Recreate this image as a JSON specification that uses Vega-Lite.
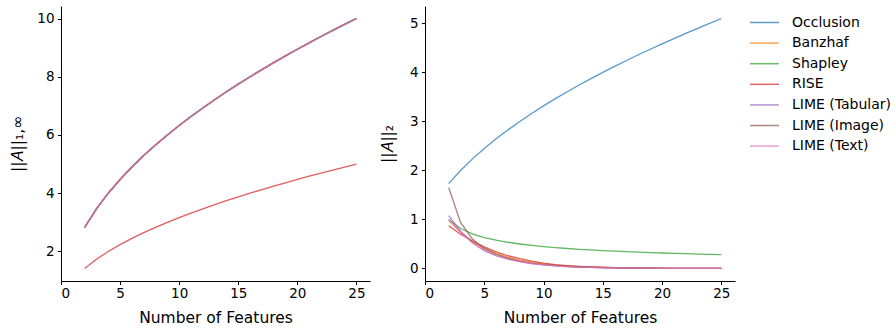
{
  "$schema": "https://vega.github.io/schema/vega-lite/v6.json",
  "background": "white",
  "padding": {"left": 10, "top": 6, "right": 5, "bottom": 5},
  "config": {
    "view": {"stroke": null},
    "font": "DejaVu Sans",
    "concat": {"spacing": 10},
    "axis": {"domainColor": "black", "tickColor": "black", "labelColor": "black", "titleColor": "black", "labelFont": "DejaVu Sans", "titleFont": "DejaVu Sans", "labelFontSize": 13.5, "titleFontSize": 15.5, "titleFontWeight": "normal", "grid": false, "tickSize": 3.5, "labelPadding": 3.5, "domainWidth": 1, "tickWidth": 1},
    "legend": {"orient": "right", "offset": 13, "padding": 6, "symbolType": "M-1.5,0H1.5", "symbolSize": 374, "symbolStrokeWidth": 1.5, "symbolOpacity": 0.7, "labelFont": "DejaVu Sans", "labelFontSize": 14, "labelColor": "black", "labelOffset": 17, "rowPadding": 2.6}
  },
  "datasets": {
    "left": [
      {"m":"Occlusion","n":2,"v":2.828},{"m":"Occlusion","n":3,"v":3.464},{"m":"Occlusion","n":4,"v":4},{"m":"Occlusion","n":5,"v":4.472},{"m":"Occlusion","n":6,"v":4.899},{"m":"Occlusion","n":7,"v":5.292},{"m":"Occlusion","n":8,"v":5.657},{"m":"Occlusion","n":9,"v":6},{"m":"Occlusion","n":10,"v":6.325},{"m":"Occlusion","n":11,"v":6.633},{"m":"Occlusion","n":12,"v":6.928},{"m":"Occlusion","n":13,"v":7.211},{"m":"Occlusion","n":14,"v":7.483},{"m":"Occlusion","n":15,"v":7.746},{"m":"Occlusion","n":16,"v":8},{"m":"Occlusion","n":17,"v":8.246},{"m":"Occlusion","n":18,"v":8.485},{"m":"Occlusion","n":19,"v":8.718},{"m":"Occlusion","n":20,"v":8.944},{"m":"Occlusion","n":21,"v":9.165},{"m":"Occlusion","n":22,"v":9.381},{"m":"Occlusion","n":23,"v":9.592},{"m":"Occlusion","n":24,"v":9.798},{"m":"Occlusion","n":25,"v":10},
      {"m":"Banzhaf","n":2,"v":2.828},{"m":"Banzhaf","n":3,"v":3.464},{"m":"Banzhaf","n":4,"v":4},{"m":"Banzhaf","n":5,"v":4.472},{"m":"Banzhaf","n":6,"v":4.899},{"m":"Banzhaf","n":7,"v":5.292},{"m":"Banzhaf","n":8,"v":5.657},{"m":"Banzhaf","n":9,"v":6},{"m":"Banzhaf","n":10,"v":6.325},{"m":"Banzhaf","n":11,"v":6.633},{"m":"Banzhaf","n":12,"v":6.928},{"m":"Banzhaf","n":13,"v":7.211},{"m":"Banzhaf","n":14,"v":7.483},{"m":"Banzhaf","n":15,"v":7.746},{"m":"Banzhaf","n":16,"v":8},{"m":"Banzhaf","n":17,"v":8.246},{"m":"Banzhaf","n":18,"v":8.485},{"m":"Banzhaf","n":19,"v":8.718},{"m":"Banzhaf","n":20,"v":8.944},{"m":"Banzhaf","n":21,"v":9.165},{"m":"Banzhaf","n":22,"v":9.381},{"m":"Banzhaf","n":23,"v":9.592},{"m":"Banzhaf","n":24,"v":9.798},{"m":"Banzhaf","n":25,"v":10},
      {"m":"Shapley","n":2,"v":2.828},{"m":"Shapley","n":3,"v":3.464},{"m":"Shapley","n":4,"v":4},{"m":"Shapley","n":5,"v":4.472},{"m":"Shapley","n":6,"v":4.899},{"m":"Shapley","n":7,"v":5.292},{"m":"Shapley","n":8,"v":5.657},{"m":"Shapley","n":9,"v":6},{"m":"Shapley","n":10,"v":6.325},{"m":"Shapley","n":11,"v":6.633},{"m":"Shapley","n":12,"v":6.928},{"m":"Shapley","n":13,"v":7.211},{"m":"Shapley","n":14,"v":7.483},{"m":"Shapley","n":15,"v":7.746},{"m":"Shapley","n":16,"v":8},{"m":"Shapley","n":17,"v":8.246},{"m":"Shapley","n":18,"v":8.485},{"m":"Shapley","n":19,"v":8.718},{"m":"Shapley","n":20,"v":8.944},{"m":"Shapley","n":21,"v":9.165},{"m":"Shapley","n":22,"v":9.381},{"m":"Shapley","n":23,"v":9.592},{"m":"Shapley","n":24,"v":9.798},{"m":"Shapley","n":25,"v":10},
      {"m":"RISE","n":2,"v":1.414},{"m":"RISE","n":3,"v":1.732},{"m":"RISE","n":4,"v":2},{"m":"RISE","n":5,"v":2.236},{"m":"RISE","n":6,"v":2.449},{"m":"RISE","n":7,"v":2.646},{"m":"RISE","n":8,"v":2.828},{"m":"RISE","n":9,"v":3},{"m":"RISE","n":10,"v":3.162},{"m":"RISE","n":11,"v":3.317},{"m":"RISE","n":12,"v":3.464},{"m":"RISE","n":13,"v":3.606},{"m":"RISE","n":14,"v":3.742},{"m":"RISE","n":15,"v":3.873},{"m":"RISE","n":16,"v":4},{"m":"RISE","n":17,"v":4.123},{"m":"RISE","n":18,"v":4.243},{"m":"RISE","n":19,"v":4.359},{"m":"RISE","n":20,"v":4.472},{"m":"RISE","n":21,"v":4.583},{"m":"RISE","n":22,"v":4.69},{"m":"RISE","n":23,"v":4.796},{"m":"RISE","n":24,"v":4.899},{"m":"RISE","n":25,"v":5},
      {"m":"LIME (Tabular)","n":2,"v":2.828},{"m":"LIME (Tabular)","n":3,"v":3.464},{"m":"LIME (Tabular)","n":4,"v":4},{"m":"LIME (Tabular)","n":5,"v":4.472},{"m":"LIME (Tabular)","n":6,"v":4.899},{"m":"LIME (Tabular)","n":7,"v":5.292},{"m":"LIME (Tabular)","n":8,"v":5.657},{"m":"LIME (Tabular)","n":9,"v":6},{"m":"LIME (Tabular)","n":10,"v":6.325},{"m":"LIME (Tabular)","n":11,"v":6.633},{"m":"LIME (Tabular)","n":12,"v":6.928},{"m":"LIME (Tabular)","n":13,"v":7.211},{"m":"LIME (Tabular)","n":14,"v":7.483},{"m":"LIME (Tabular)","n":15,"v":7.746},{"m":"LIME (Tabular)","n":16,"v":8},{"m":"LIME (Tabular)","n":17,"v":8.246},{"m":"LIME (Tabular)","n":18,"v":8.485},{"m":"LIME (Tabular)","n":19,"v":8.718},{"m":"LIME (Tabular)","n":20,"v":8.944},{"m":"LIME (Tabular)","n":21,"v":9.165},{"m":"LIME (Tabular)","n":22,"v":9.381},{"m":"LIME (Tabular)","n":23,"v":9.592},{"m":"LIME (Tabular)","n":24,"v":9.798},{"m":"LIME (Tabular)","n":25,"v":10},
      {"m":"LIME (Image)","n":2,"v":2.828},{"m":"LIME (Image)","n":3,"v":3.464},{"m":"LIME (Image)","n":4,"v":4},{"m":"LIME (Image)","n":5,"v":4.472},{"m":"LIME (Image)","n":6,"v":4.899},{"m":"LIME (Image)","n":7,"v":5.292},{"m":"LIME (Image)","n":8,"v":5.657},{"m":"LIME (Image)","n":9,"v":6},{"m":"LIME (Image)","n":10,"v":6.325},{"m":"LIME (Image)","n":11,"v":6.633},{"m":"LIME (Image)","n":12,"v":6.928},{"m":"LIME (Image)","n":13,"v":7.211},{"m":"LIME (Image)","n":14,"v":7.483},{"m":"LIME (Image)","n":15,"v":7.746},{"m":"LIME (Image)","n":16,"v":8},{"m":"LIME (Image)","n":17,"v":8.246},{"m":"LIME (Image)","n":18,"v":8.485},{"m":"LIME (Image)","n":19,"v":8.718},{"m":"LIME (Image)","n":20,"v":8.944},{"m":"LIME (Image)","n":21,"v":9.165},{"m":"LIME (Image)","n":22,"v":9.381},{"m":"LIME (Image)","n":23,"v":9.592},{"m":"LIME (Image)","n":24,"v":9.798},{"m":"LIME (Image)","n":25,"v":10},
      {"m":"LIME (Text)","n":2,"v":2.828},{"m":"LIME (Text)","n":3,"v":3.464},{"m":"LIME (Text)","n":4,"v":4},{"m":"LIME (Text)","n":5,"v":4.472},{"m":"LIME (Text)","n":6,"v":4.899},{"m":"LIME (Text)","n":7,"v":5.292},{"m":"LIME (Text)","n":8,"v":5.657},{"m":"LIME (Text)","n":9,"v":6},{"m":"LIME (Text)","n":10,"v":6.325},{"m":"LIME (Text)","n":11,"v":6.633},{"m":"LIME (Text)","n":12,"v":6.928},{"m":"LIME (Text)","n":13,"v":7.211},{"m":"LIME (Text)","n":14,"v":7.483},{"m":"LIME (Text)","n":15,"v":7.746},{"m":"LIME (Text)","n":16,"v":8},{"m":"LIME (Text)","n":17,"v":8.246},{"m":"LIME (Text)","n":18,"v":8.485},{"m":"LIME (Text)","n":19,"v":8.718},{"m":"LIME (Text)","n":20,"v":8.944},{"m":"LIME (Text)","n":21,"v":9.165},{"m":"LIME (Text)","n":22,"v":9.381},{"m":"LIME (Text)","n":23,"v":9.592},{"m":"LIME (Text)","n":24,"v":9.798},{"m":"LIME (Text)","n":25,"v":10}
    ],
    "right": [
      {"m":"Occlusion","n":2,"v":1.732},{"m":"Occlusion","n":3,"v":2},{"m":"Occlusion","n":4,"v":2.236},{"m":"Occlusion","n":5,"v":2.449},{"m":"Occlusion","n":6,"v":2.646},{"m":"Occlusion","n":7,"v":2.828},{"m":"Occlusion","n":8,"v":3},{"m":"Occlusion","n":9,"v":3.162},{"m":"Occlusion","n":10,"v":3.317},{"m":"Occlusion","n":11,"v":3.464},{"m":"Occlusion","n":12,"v":3.606},{"m":"Occlusion","n":13,"v":3.742},{"m":"Occlusion","n":14,"v":3.873},{"m":"Occlusion","n":15,"v":4},{"m":"Occlusion","n":16,"v":4.123},{"m":"Occlusion","n":17,"v":4.243},{"m":"Occlusion","n":18,"v":4.359},{"m":"Occlusion","n":19,"v":4.472},{"m":"Occlusion","n":20,"v":4.583},{"m":"Occlusion","n":21,"v":4.69},{"m":"Occlusion","n":22,"v":4.796},{"m":"Occlusion","n":23,"v":4.899},{"m":"Occlusion","n":24,"v":5},{"m":"Occlusion","n":25,"v":5.099},
      {"m":"Banzhaf","n":2,"v":0.98},{"m":"Banzhaf","n":3,"v":0.74},{"m":"Banzhaf","n":4,"v":0.55},{"m":"Banzhaf","n":5,"v":0.41},{"m":"Banzhaf","n":6,"v":0.31},{"m":"Banzhaf","n":7,"v":0.23},{"m":"Banzhaf","n":8,"v":0.17},{"m":"Banzhaf","n":9,"v":0.13},{"m":"Banzhaf","n":10,"v":0.095},{"m":"Banzhaf","n":11,"v":0.07},{"m":"Banzhaf","n":12,"v":0.052},{"m":"Banzhaf","n":13,"v":0.038},{"m":"Banzhaf","n":14,"v":0.028},{"m":"Banzhaf","n":15,"v":0.02},{"m":"Banzhaf","n":16,"v":0.015},{"m":"Banzhaf","n":17,"v":0.011},{"m":"Banzhaf","n":18,"v":0.008},{"m":"Banzhaf","n":19,"v":0.006},{"m":"Banzhaf","n":20,"v":0.004},{"m":"Banzhaf","n":21,"v":0.003},{"m":"Banzhaf","n":22,"v":0.002},{"m":"Banzhaf","n":23,"v":0.002},{"m":"Banzhaf","n":24,"v":0.001},{"m":"Banzhaf","n":25,"v":0.001},
      {"m":"Shapley","n":2,"v":1},{"m":"Shapley","n":3,"v":0.816},{"m":"Shapley","n":4,"v":0.707},{"m":"Shapley","n":5,"v":0.632},{"m":"Shapley","n":6,"v":0.577},{"m":"Shapley","n":7,"v":0.535},{"m":"Shapley","n":8,"v":0.5},{"m":"Shapley","n":9,"v":0.471},{"m":"Shapley","n":10,"v":0.447},{"m":"Shapley","n":11,"v":0.426},{"m":"Shapley","n":12,"v":0.408},{"m":"Shapley","n":13,"v":0.392},{"m":"Shapley","n":14,"v":0.378},{"m":"Shapley","n":15,"v":0.365},{"m":"Shapley","n":16,"v":0.354},{"m":"Shapley","n":17,"v":0.343},{"m":"Shapley","n":18,"v":0.333},{"m":"Shapley","n":19,"v":0.324},{"m":"Shapley","n":20,"v":0.316},{"m":"Shapley","n":21,"v":0.309},{"m":"Shapley","n":22,"v":0.302},{"m":"Shapley","n":23,"v":0.295},{"m":"Shapley","n":24,"v":0.289},{"m":"Shapley","n":25,"v":0.283},
      {"m":"RISE","n":2,"v":0.87},{"m":"RISE","n":3,"v":0.7},{"m":"RISE","n":4,"v":0.56},{"m":"RISE","n":5,"v":0.44},{"m":"RISE","n":6,"v":0.34},{"m":"RISE","n":7,"v":0.26},{"m":"RISE","n":8,"v":0.2},{"m":"RISE","n":9,"v":0.15},{"m":"RISE","n":10,"v":0.11},{"m":"RISE","n":11,"v":0.08},{"m":"RISE","n":12,"v":0.06},{"m":"RISE","n":13,"v":0.045},{"m":"RISE","n":14,"v":0.033},{"m":"RISE","n":15,"v":0.025},{"m":"RISE","n":16,"v":0.018},{"m":"RISE","n":17,"v":0.013},{"m":"RISE","n":18,"v":0.01},{"m":"RISE","n":19,"v":0.007},{"m":"RISE","n":20,"v":0.005},{"m":"RISE","n":21,"v":0.004},{"m":"RISE","n":22,"v":0.003},{"m":"RISE","n":23,"v":0.002},{"m":"RISE","n":24,"v":0.001},{"m":"RISE","n":25,"v":0.001},
      {"m":"LIME (Tabular)","n":2,"v":1.08},{"m":"LIME (Tabular)","n":3,"v":0.76},{"m":"LIME (Tabular)","n":4,"v":0.53},{"m":"LIME (Tabular)","n":5,"v":0.37},{"m":"LIME (Tabular)","n":6,"v":0.26},{"m":"LIME (Tabular)","n":7,"v":0.19},{"m":"LIME (Tabular)","n":8,"v":0.14},{"m":"LIME (Tabular)","n":9,"v":0.1},{"m":"LIME (Tabular)","n":10,"v":0.075},{"m":"LIME (Tabular)","n":11,"v":0.055},{"m":"LIME (Tabular)","n":12,"v":0.04},{"m":"LIME (Tabular)","n":13,"v":0.03},{"m":"LIME (Tabular)","n":14,"v":0.022},{"m":"LIME (Tabular)","n":15,"v":0.016},{"m":"LIME (Tabular)","n":16,"v":0.012},{"m":"LIME (Tabular)","n":17,"v":0.009},{"m":"LIME (Tabular)","n":18,"v":0.006},{"m":"LIME (Tabular)","n":19,"v":0.005},{"m":"LIME (Tabular)","n":20,"v":0.003},{"m":"LIME (Tabular)","n":21,"v":0.002},{"m":"LIME (Tabular)","n":22,"v":0.002},{"m":"LIME (Tabular)","n":23,"v":0.001},{"m":"LIME (Tabular)","n":24,"v":0.001},{"m":"LIME (Tabular)","n":25,"v":0.001},
      {"m":"LIME (Image)","n":2,"v":1.65},{"m":"LIME (Image)","n":3,"v":0.94},{"m":"LIME (Image)","n":4,"v":0.6},{"m":"LIME (Image)","n":5,"v":0.41},{"m":"LIME (Image)","n":6,"v":0.29},{"m":"LIME (Image)","n":7,"v":0.21},{"m":"LIME (Image)","n":8,"v":0.15},{"m":"LIME (Image)","n":9,"v":0.11},{"m":"LIME (Image)","n":10,"v":0.08},{"m":"LIME (Image)","n":11,"v":0.058},{"m":"LIME (Image)","n":12,"v":0.042},{"m":"LIME (Image)","n":13,"v":0.031},{"m":"LIME (Image)","n":14,"v":0.023},{"m":"LIME (Image)","n":15,"v":0.017},{"m":"LIME (Image)","n":16,"v":0.012},{"m":"LIME (Image)","n":17,"v":0.009},{"m":"LIME (Image)","n":18,"v":0.006},{"m":"LIME (Image)","n":19,"v":0.005},{"m":"LIME (Image)","n":20,"v":0.003},{"m":"LIME (Image)","n":21,"v":0.002},{"m":"LIME (Image)","n":22,"v":0.002},{"m":"LIME (Image)","n":23,"v":0.001},{"m":"LIME (Image)","n":24,"v":0.001},{"m":"LIME (Image)","n":25,"v":0.001},
      {"m":"LIME (Text)","n":2,"v":1},{"m":"LIME (Text)","n":3,"v":0.74},{"m":"LIME (Text)","n":4,"v":0.52},{"m":"LIME (Text)","n":5,"v":0.36},{"m":"LIME (Text)","n":6,"v":0.26},{"m":"LIME (Text)","n":7,"v":0.19},{"m":"LIME (Text)","n":8,"v":0.14},{"m":"LIME (Text)","n":9,"v":0.1},{"m":"LIME (Text)","n":10,"v":0.072},{"m":"LIME (Text)","n":11,"v":0.053},{"m":"LIME (Text)","n":12,"v":0.039},{"m":"LIME (Text)","n":13,"v":0.029},{"m":"LIME (Text)","n":14,"v":0.021},{"m":"LIME (Text)","n":15,"v":0.015},{"m":"LIME (Text)","n":16,"v":0.011},{"m":"LIME (Text)","n":17,"v":0.008},{"m":"LIME (Text)","n":18,"v":0.006},{"m":"LIME (Text)","n":19,"v":0.004},{"m":"LIME (Text)","n":20,"v":0.003},{"m":"LIME (Text)","n":21,"v":0.002},{"m":"LIME (Text)","n":22,"v":0.002},{"m":"LIME (Text)","n":23,"v":0.001},{"m":"LIME (Text)","n":24,"v":0.001},{"m":"LIME (Text)","n":25,"v":0.001}
    ]
  },
  "hconcat": [
    {
      "width": 309,
      "height": 275,
      "data": {"name": "left"},
      "mark": {"type": "line", "strokeWidth": 1.3, "opacity": 0.75},
      "encoding": {
        "x": {"field": "n", "type": "quantitative", "scale": {"domain": [0, 26.15], "nice": false, "zero": false}, "axis": {"values": [0, 5, 10, 15, 20, 25], "title": "Number of Features", "titlePadding": 10, "labelPadding": 2}},
        "y": {"field": "v", "type": "quantitative", "scale": {"domain": [0.985, 10.43], "nice": false, "zero": false}, "axis": {"values": [2, 4, 6, 8, 10], "title": "||𝐴||₁,∞", "titlePadding": 11}},
        "color": {"field": "m", "type": "nominal", "sort": null, "scale": {"domain": ["Occlusion", "Banzhaf", "Shapley", "RISE", "LIME (Tabular)", "LIME (Image)", "LIME (Text)"], "range": ["#1f77b4", "#ff7f0e", "#2ca02c", "#d62728", "#9467bd", "#8c564b", "#e377c2"]}, "legend": {"title": null}}
      }
    },
    {
      "width": 310,
      "height": 275,
      "data": {"name": "right"},
      "mark": {"type": "line", "strokeWidth": 1.3, "opacity": 0.75},
      "encoding": {
        "x": {"field": "n", "type": "quantitative", "scale": {"domain": [0, 26.15], "nice": false, "zero": false}, "axis": {"values": [0, 5, 10, 15, 20, 25], "title": "Number of Features", "titlePadding": 10, "labelPadding": 2}},
        "y": {"field": "v", "type": "quantitative", "scale": {"domain": [-0.255, 5.354], "nice": false, "zero": false}, "axis": {"values": [0, 1, 2, 3, 4, 5], "title": "||𝐴||₂", "titlePadding": 14}},
        "color": {"field": "m", "type": "nominal", "sort": null, "scale": {"domain": ["Occlusion", "Banzhaf", "Shapley", "RISE", "LIME (Tabular)", "LIME (Image)", "LIME (Text)"], "range": ["#1f77b4", "#ff7f0e", "#2ca02c", "#d62728", "#9467bd", "#8c564b", "#e377c2"]}, "legend": {"title": null}}
      }
    }
  ]
}
